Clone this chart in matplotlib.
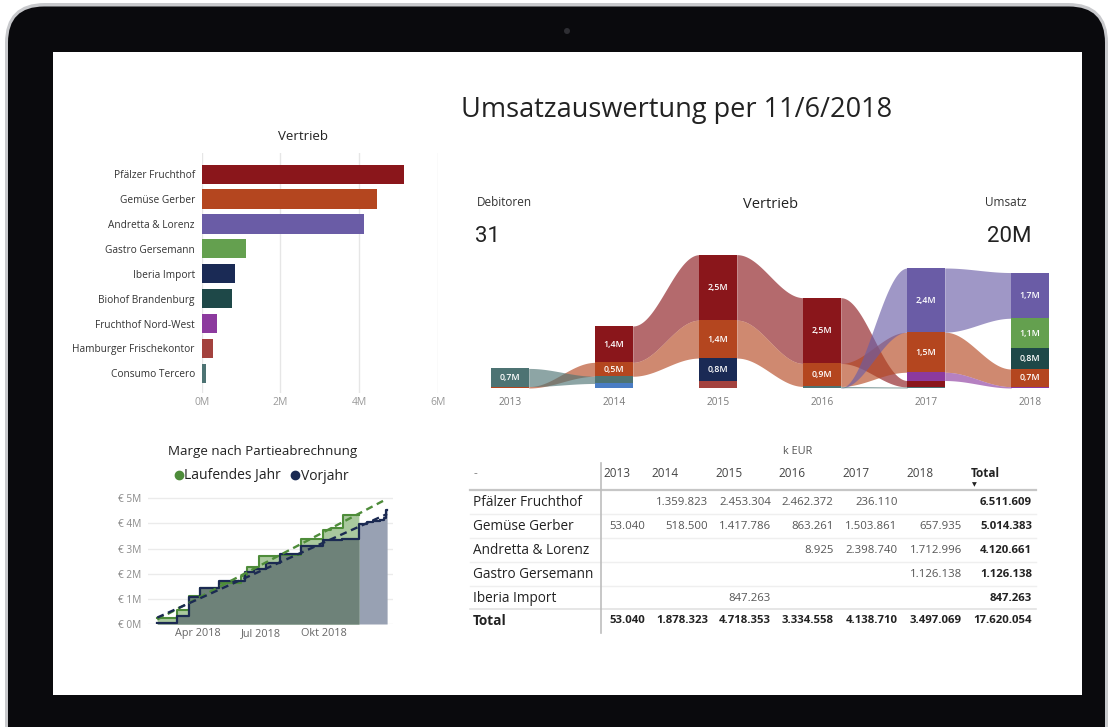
import numpy as np
import matplotlib
matplotlib.use('Agg')
import matplotlib.pyplot as plt
from matplotlib.patches import FancyBboxPatch, Rectangle, Circle
from matplotlib.lines import Line2D

plt.rcParams['font.family'] = ['Open Sans', 'DejaVu Sans']

W, H = 1113, 727

# ---------------- Data ----------------
title_text = 'Umsatzauswertung per 11/6/2018'

# Bar chart "Vertrieb"
bar_customers = ['Pfälzer Fruchthof', 'Gemüse Gerber', 'Andretta & Lorenz', 'Gastro Gersemann',
                 'Iberia Import', 'Biohof Brandenburg', 'Fruchthof Nord-West',
                 'Hamburger Frischekontor', 'Consumo Tercero']
bar_values = [5.15, 4.45, 4.13, 1.13, 0.85, 0.77, 0.39, 0.30, 0.12]
bar_colors = ['#8A161B', '#B4461F', '#6A5CA6', '#64A04F', '#1A2A55', '#1E4848',
              '#8C3A9E', '#A3423E', '#4D7373']
bar_ticks = [0, 2, 4, 6]

# Ribbon chart (values in M EUR per year)
rib_years = ['2013', '2014', '2015', '2016', '2017', '2018']
rib_pfaelzer = [0.0, 1.36, 2.45, 2.46, 0.24, 0.0]
rib_gemuese = [0.053, 0.52, 1.42, 0.86, 1.50, 0.66]
rib_andretta = [0.0, 0.0, 0.0, 0.009, 2.40, 1.71]
rib_gastro = [0.0, 0.0, 0.0, 0.0, 0.0, 1.13]
rib_iberia = [0.0, 0.0, 0.85, 0.0, 0.0, 0.0]
rib_biohof = [0.0, 0.0, 0.0, 0.0, 0.0, 0.77]
rib_fnw = [0.0, 0.0, 0.0, 0.0, 0.31, 0.05]
rib_hamburger = [0.0, 0.0, 0.27, 0.0, 0.0, 0.0]
rib_consumo = [0.68, 0.27, 0.0, 0.05, 0.04, 0.0]
rib_sonstige = [0.0, 0.17, 0.0, 0.0, 0.0, 0.0]
rib_colors = ['#8A161B', '#B4461F', '#6A5CA6', '#64A04F', '#1A2A55', '#1E4848',
              '#8C3A9E', '#A3423E', '#4D7373', '#4A7DC4']

kpi_debitoren_label = 'Debitoren'
kpi_debitoren = '31'
kpi_umsatz_label = 'Umsatz'
kpi_umsatz = '20M'

# Margin chart (cumulative, M EUR)
cy_dates = ['2018-02-01', '2018-03-01', '2018-03-19', '2018-04-04', '2018-05-02', '2018-06-03',
            '2018-06-11', '2018-06-29', '2018-07-29', '2018-08-29', '2018-09-30', '2018-10-12',
            '2018-10-29']
cy_values = [0.24, 0.55, 1.12, 1.42, 1.65, 1.92, 2.25, 2.70, 2.76, 3.40, 3.72, 3.80, 4.35]
cy_end = '2018-11-21'
ly_dates = ['2018-02-01', '2018-03-01', '2018-03-19', '2018-04-04', '2018-05-02', '2018-06-08',
            '2018-06-22', '2018-07-09', '2018-07-29', '2018-08-29', '2018-09-30', '2018-10-27',
            '2018-11-21', '2018-12-03', '2018-12-12', '2018-12-21', '2018-12-28', '2018-12-31']
ly_values = [0.05, 0.31, 1.06, 1.45, 1.72, 2.07, 2.20, 2.42, 2.80, 3.10, 3.33, 3.40,
             3.97, 4.05, 4.10, 4.15, 4.22, 4.53]
ly_end = '2019-01-01'
margin_xticks = ['2018-04-01', '2018-07-01', '2018-10-01']
margin_xlabels = ['Apr 2018', 'Jul 2018', 'Okt 2018']
margin_yticks = [0, 1, 2, 3, 4, 5]

# Table (EUR)
tab_years = ['2013', '2014', '2015', '2016', '2017', '2018']
tab_customers = ['Pfälzer Fruchthof', 'Gemüse Gerber', 'Andretta & Lorenz', 'Gastro Gersemann', 'Iberia Import']
tab_pfaelzer = [None, 1359823, 2453304, 2462372, 236110, None]
tab_gemuese = [53040, 518500, 1417786, 863261, 1503861, 657935]
tab_andretta = [None, None, None, 8925, 2398740, 1712996]
tab_gastro = [None, None, None, None, None, 1126138]
tab_iberia = [None, None, 847263, None, None, None]
tab_row_totals = [6511609, 5014383, 4120661, 1126138, 847263]
tab_col_totals = [53040, 1878323, 4718353, 3334558, 4138710, 3497069]
tab_grand_total = 17620054

# ---------------- Figure ----------------
fig = plt.figure(figsize=(W / 100, H / 100), dpi=100)
fig.patch.set_facecolor('white')


def px_axes(x0, y0, x1, y1):
    ax = fig.add_axes([x0 / W, 1 - y1 / H, (x1 - x0) / W, (y1 - y0) / H])
    ax.set_facecolor('none')
    return ax


bg = fig.add_axes([0, 0, 1, 1])
bg.set_xlim(0, W)
bg.set_ylim(H, 0)
bg.axis('off')
bg.add_patch(FancyBboxPatch((5, 3), 1103, 800, boxstyle='round,pad=0,rounding_size=40',
                            fc='#C8C9CC', ec='none'))
bg.add_patch(FancyBboxPatch((8, 6.5), 1097, 800, boxstyle='round,pad=0,rounding_size=36',
                            fc='#0A0A0D', ec='none'))
bg.add_patch(Rectangle((53, 52), 1029, 643, fc='white', ec='none'))
bg.add_patch(Circle((567, 31), 3, fc='#2E2E33', ec='none'))

bg.text(677, 110, title_text, ha='center', va='center', fontsize=19.5, color='#222222')

# ---- Bar chart ----
bg.text(303, 137, 'Vertrieb', ha='center', va='center', fontsize=9.5, color='#222222')
ax1 = px_axes(201.7, 153, 437.7, 393)
ypos = np.arange(len(bar_customers))
ax1.barh(ypos, bar_values, height=0.77, color=bar_colors, zorder=3)
ax1.set_xlim(0, 6)
ax1.set_ylim(8.79, -0.85)
ax1.set_xticks(bar_ticks)
ax1.set_xticklabels([f'{t}M' for t in bar_ticks])
ax1.set_yticks(ypos)
ax1.set_yticklabels(bar_customers)
ax1.tick_params(axis='x', length=0, pad=3, labelsize=7.5, labelcolor='#9A9A9A')
ax1.tick_params(axis='y', length=0, pad=5, labelsize=7.3, labelcolor='#333333')
ax1.grid(axis='x', color='#E6E6E6', lw=1, zorder=0)
for s in ax1.spines.values():
    s.set_visible(False)

# ---- KPIs + ribbon ----
bg.text(477, 203, kpi_debitoren_label, ha='left', va='center', fontsize=8.5, color='#333333')
bg.text(475, 236, kpi_debitoren, ha='left', va='center', fontsize=16, color='#222222', family=['Roboto', 'DejaVu Sans'])
bg.text(771, 205, 'Vertrieb', ha='center', va='center', fontsize=10.5, color='#222222')
bg.text(1026, 203, kpi_umsatz_label, ha='right', va='center', fontsize=8.5, color='#333333')
bg.text(1031, 236, kpi_umsatz, ha='right', va='center', fontsize=16, color='#222222', family=['Roboto', 'DejaVu Sans'])

ax2 = px_axes(468.4, 241, 1061.2, 388)
vals = np.array([rib_pfaelzer, rib_gemuese, rib_andretta, rib_gastro, rib_iberia, rib_biohof,
                 rib_fnw, rib_hamburger, rib_consumo, rib_sonstige])
n_s, n_y = vals.shape
bottoms = np.zeros_like(vals)
for j in range(n_y):
    cum = 0.0
    for i in np.argsort(vals[:, j], kind='stable'):
        if vals[i, j] > 0:
            bottoms[i, j] = cum
            cum += vals[i, j]
bw = 0.36
t = np.linspace(0, 1, 80)
sm = (1 - np.cos(np.pi * t)) / 2
for i in range(n_s):
    for j in range(n_y - 1):
        if vals[i, j] > 0 and vals[i, j + 1] > 0:
            x0, x1 = j + bw / 2, j + 1 - bw / 2
            xs = x0 + (x1 - x0) * t
            b = bottoms[i, j] + (bottoms[i, j + 1] - bottoms[i, j]) * sm
            tp = (bottoms[i, j] + vals[i, j]) + ((bottoms[i, j + 1] + vals[i, j + 1]) - (bottoms[i, j] + vals[i, j])) * sm
            ax2.fill_between(xs, b, tp, color=rib_colors[i], alpha=0.64, lw=0, zorder=1)
for i in range(n_s):
    for j in range(n_y):
        v = vals[i, j]
        if v > 0:
            ax2.bar(j, v, bottom=bottoms[i, j], width=bw, color=rib_colors[i], lw=0, zorder=3)
            if v >= 0.4:
                ax2.text(j, bottoms[i, j] + v / 2, f'{v:.1f}'.replace('.', ',') + 'M',
                         ha='center', va='center', fontsize=6.3, color='white',
                         fontweight='semibold', zorder=4)
ax2.set_xlim(-0.4, 5.3)
ax2.set_ylim(0, 5.5)
ax2.set_xticks(range(n_y))
ax2.set_xticklabels(rib_years)
ax2.set_yticks([])
ax2.tick_params(axis='x', length=0, pad=6.5, labelsize=7.3, labelcolor='#7A7A7A')
for s in ax2.spines.values():
    s.set_visible(False)

# ---- Margin chart ----
bg.text(263, 452, 'Marge nach Partieabrechnung', ha='center', va='center', fontsize=9.6, color='#222222')
ax3 = px_axes(148.3, 490, 393.3, 624)
cyd = np.array(cy_dates, dtype='datetime64[D]')
lyd = np.array(ly_dates, dtype='datetime64[D]')
cyv = np.array(cy_values)
lyv = np.array(ly_values)
days = np.arange(lyd[0], np.datetime64(ly_end) + 1)
ly_daily = lyv[np.searchsorted(lyd, days, side='right') - 1]
cmask = days <= np.datetime64(cy_end)
cdays = days[cmask]
cy_daily = cyv[np.searchsorted(cyd, cdays, side='right') - 1]

ax3.fill_between(days, 0, ly_daily, step='post', color='#98A1B3', lw=0, zorder=2)
ax3.fill_between(cdays, 0, cy_daily, step='post', color='#A9C89E', lw=0, zorder=2)
ax3.fill_between(cdays, 0, np.minimum(cy_daily, ly_daily[cmask]), step='post', color='#6E8279', lw=0, zorder=2)
ax3.step(cdays, cy_daily, where='post', color='#4E8C3A', lw=1.5, zorder=4)
ax3.step(days, ly_daily, where='post', color='#1B2A52', lw=1.6, zorder=5)

xn = (days - days[0]).astype(float)
pc = np.polyfit(xn[cmask], cy_daily, 1)
pl = np.polyfit(xn, ly_daily, 1)
ax3.plot(days, np.polyval(pc, xn), color='#4E8C3A', lw=1.7, dashes=(3, 2), zorder=6)
ax3.plot(days, np.polyval(pl, xn), color='#1B2A52', lw=1.7, dashes=(3, 2), zorder=6)

ax3.set_xlim(np.datetime64('2018-01-19'), np.datetime64('2019-01-10'))
ax3.set_ylim(0, 5.33)
ax3.set_yticks(margin_yticks)
ax3.set_yticklabels([f'€ {v}M' for v in margin_yticks])
ax3.set_xticks(np.array(margin_xticks, dtype='datetime64[D]'))
ax3.set_xticklabels(margin_xlabels)
ax3.tick_params(axis='y', length=0, pad=5, labelsize=7.3, labelcolor='#8A8A8A')
ax3.tick_params(axis='x', length=0, pad=3, labelsize=7.8, labelcolor='#666666')
ax3.grid(axis='y', color='#EBEBEB', lw=1, zorder=0)
for s in ax3.spines.values():
    s.set_visible(False)
handles = [Line2D([], [], ls='', marker='o', color='#4E8C3A', markersize=6),
           Line2D([], [], ls='', marker='o', color='#1B2A52', markersize=6)]
ax3.legend(handles, ['Laufendes Jahr', 'Vorjahr'], ncol=2, loc='center',
           bbox_to_anchor=(260 / W, 1 - 476 / H), bbox_transform=fig.transFigure,
           frameon=False, handletextpad=-0.1, columnspacing=0.5, handlelength=1.0,
           fontsize=10, labelcolor='#222222')

# ---- Table ----
ax4 = px_axes(465, 440, 1045, 640)
ax4.set_xlim(465, 1045)
ax4.set_ylim(640, 440)
ax4.axis('off')
col_right = [645, 708, 771, 833.5, 897.5, 962, 1032]
col_left = [603.5, 651.5, 715, 778.5, 842.5, 906.5, 970.5]
row_y = [503, 527, 551, 575, 599]
total_y = 621
header_y = 474


def fmt(v):
    return f'{v:,}'.replace(',', '.')


ax4.text(798, 452, 'k EUR', ha='center', va='center', fontsize=7.8, color='#555555')
ax4.text(474, header_y, '-', ha='left', va='center', fontsize=8.5, color='#888888')
for k, yr in enumerate(tab_years):
    ax4.text(col_left[k], header_y, yr, ha='left', va='center', fontsize=8.5, color='#444444')
ax4.text(col_left[6], header_y, 'Total', ha='left', va='center', fontsize=8.5, color='#222222', fontweight='bold')
ax4.text(col_left[6] + 4, 485, '▼', ha='center', va='center', fontsize=4.5, color='#222222')

rows = [tab_pfaelzer, tab_gemuese, tab_andretta, tab_gastro, tab_iberia]
for r, (name, row) in enumerate(zip(tab_customers, rows)):
    ax4.text(473, row_y[r], name, ha='left', va='center', fontsize=9.8, color='#222222')
    for k, v in enumerate(row):
        if v is not None:
            ax4.text(col_right[k], row_y[r], fmt(v), ha='right', va='center', fontsize=8.2, color='#555555')
    ax4.text(col_right[6], row_y[r], fmt(tab_row_totals[r]), ha='right',
             va='center', fontsize=8.2, color='#222222', fontweight='bold')
ax4.text(473, total_y, 'Total', ha='left', va='center', fontsize=9.8, color='#222222', fontweight='bold')
for k, v in enumerate(tab_col_totals):
    ax4.text(col_right[k], total_y, fmt(v), ha='right', va='center', fontsize=8.2, color='#222222', fontweight='bold')
ax4.text(col_right[6], total_y, fmt(tab_grand_total), ha='right', va='center', fontsize=8.2,
         color='#222222', fontweight='bold')

ax4.plot([470, 1036], [490, 490], color='#C6C6C6', lw=1.6)
for yl in [514.5, 538.5, 562.5, 586]:
    ax4.plot([470, 1036], [yl, yl], color='#EFEFEF', lw=1)
ax4.plot([470, 1036], [609.5, 609.5], color='#E2E2E2', lw=1.2)
ax4.plot([601, 601], [463, 633], color='#BDBDBD', lw=1.2)

fig.savefig('out.png', dpi=100)
